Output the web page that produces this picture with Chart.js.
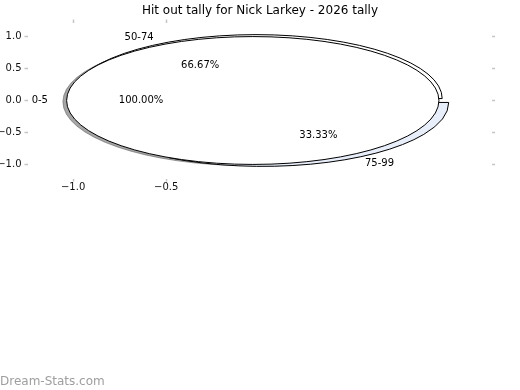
<!DOCTYPE html>
<html>
<head>
<meta charset="utf-8">
<title>Hit out tally</title>
<script src="https://cdn.jsdelivr.net/npm/chart.js@4.4.0/dist/chart.umd.min.js"></script>
<style>
  html, body { margin: 0; padding: 0; background: #fff; }
  canvas { display: block; }
</style>
</head>
<body>
<canvas id="myChart" width="520" height="390"></canvas>
<script>
// ------- Data -------
const chartTitle = 'Hit out tally for Nick Larkey - 2026 tally';
const rangeLabels = ['50-74', '75-99'];
const rangeValues = [2, 1];
const zeroLabels = ['0-5'];
const zeroValues = [1];
const xTicks = [-1.0, -0.5];
const yTicks = [1.0, 0.5, 0.0, -0.5, -1.0];

// pies in the order they are stacked (last one on top)
const pies = [
  { labels: rangeLabels, values: rangeValues, colors: ['#ffffff', '#e8eefa'], shadow: false },
  { labels: zeroLabels, values: zeroValues, colors: ['#ffffff'], shadow: true }
];

// ------- Helpers -------
function fmtTick(v) {
  return Number(v).toFixed(1).replace('-', '\u2212');
}

function wedgePath(ctx, cx, cy, rx, ry, a0, a1, full) {
  ctx.beginPath();
  if (full) {
    ctx.ellipse(cx, cy, rx, ry, 0, 0, Math.PI * 2);
  } else {
    ctx.moveTo(cx, cy);
    ctx.ellipse(cx, cy, rx, ry, 0, -a0, -a1, true);
  }
  ctx.closePath();
}

// draws the pies on the x/y scales, angles counter-clockwise from +x
const ellipsePies = {
  id: 'ellipsePies',
  afterDatasetsDraw(chart, args, opts) {
    const { ctx, scales: { x, y } } = chart;
    const rx = x.getPixelForValue(1) - x.getPixelForValue(0);
    const ry = y.getPixelForValue(0) - y.getPixelForValue(1);

    const wedges = [];
    const texts = [];
    opts.pies.forEach(pie => {
      const total = pie.values.reduce((a, b) => a + b, 0);
      let theta = 0;
      pie.values.forEach((v, i) => {
        const a0 = theta;
        const a1 = theta + v / total * Math.PI * 2;
        theta = a1;
        const am = (a0 + a1) / 2;
        const ox = opts.explode * Math.cos(am);
        const oy = opts.explode * Math.sin(am);
        wedges.push({ ox, oy, a0, a1, full: v === total, color: pie.colors[i], shadow: pie.shadow });

        const lx = ox + opts.labelDistance * Math.cos(am);
        const ly = oy + opts.labelDistance * Math.sin(am);
        texts.push({ text: pie.labels[i], x: lx, y: ly, align: lx > 0 ? 'left' : 'right' });
        texts.push({
          text: (v / total * 100).toFixed(2) + '%',
          x: ox + opts.pctDistance * Math.cos(am),
          y: oy + opts.pctDistance * Math.sin(am),
          align: 'center'
        });
      });
    });

    ctx.save();
    ctx.lineWidth = 1;
    // shadows go under every wedge
    wedges.filter(w => w.shadow).forEach(w => {
      wedgePath(ctx, x.getPixelForValue(w.ox + opts.shadowOffset), y.getPixelForValue(w.oy + opts.shadowOffset),
        rx, ry, w.a0, w.a1, w.full);
      ctx.fillStyle = 'rgba(77,77,77,0.5)';
      ctx.strokeStyle = 'rgba(77,77,77,0.5)';
      ctx.fill();
      ctx.stroke();
    });
    wedges.forEach(w => {
      wedgePath(ctx, x.getPixelForValue(w.ox), y.getPixelForValue(w.oy), rx, ry, w.a0, w.a1, w.full);
      ctx.fillStyle = w.color;
      ctx.strokeStyle = '#000';
      ctx.fill();
      ctx.stroke();
    });

    ctx.font = '10px "DejaVu Sans"';
    ctx.fillStyle = '#000';
    ctx.textBaseline = 'middle';
    texts.forEach(t => {
      ctx.textAlign = t.align;
      ctx.fillText(t.text, x.getPixelForValue(t.x), y.getPixelForValue(t.y));
    });
    ctx.restore();
  }
};

const watermark = {
  id: 'watermark',
  afterDraw(chart) {
    const ctx = chart.ctx;
    ctx.save();
    ctx.font = '12px "DejaVu Sans"';
    ctx.fillStyle = '#9e9e9e';
    ctx.textAlign = 'left';
    ctx.textBaseline = 'alphabetic';
    ctx.fillText('Dream-Stats.com', 0, 385);
    ctx.restore();
  }
};

function axis(position, min, max, ticks, showLabels, size) {
  return {
    type: 'linear',
    position,
    min,
    max,
    afterBuildTicks: s => { s.ticks = ticks.map(v => ({ value: v })); },
    afterFit: s => {
      if (s.isHorizontal()) s.height = size;
      else s.width = size;
    },
    grid: { drawOnChartArea: false, drawTicks: true, tickLength: 3, tickWidth: 1.5, tickColor: '#c4c4c4' },
    border: { display: false },
    ticks: {
      display: showLabels,
      autoSkip: false,
      maxRotation: 0,
      padding: position === 'left' ? 3 : 0,
      color: '#111',
      font: { family: 'DejaVu Sans', size: 10 },
      callback: v => fmtTick(v)
    }
  };
}

// ------- Chart -------
const ctx = document.getElementById('myChart').getContext('2d');
const chart = new Chart(ctx, {
  type: 'scatter',
  data: { datasets: [] },
  options: {
    responsive: false,
    animation: false,
    layout: { padding: 0 },
    plugins: {
      legend: { display: false },
      tooltip: { enabled: false },
      title: {
        display: true,
        text: chartTitle,
        color: '#000',
        font: { family: 'DejaVu Sans', size: 12, weight: 'normal', lineHeight: 1.2 },
        padding: { top: 4, bottom: 0 }
      },
      ellipsePies: { pies, explode: 0.035, shadowOffset: -0.02, labelDistance: 1.1, pctDistance: 0.6 }
    },
    scales: {
      x: axis('bottom', -1.245, 1.25, xTicks, true, 211.5),
      x2: axis('top', -1.245, 1.25, xTicks, false, 4.1),
      y: axis('left', -1.22, 1.22, yTicks, true, 27.5),
      y2: axis('right', -1.22, 1.22, yTicks, false, 28)
    }
  },
  plugins: [ellipsePies, watermark]
});
</script>
</body>
</html>
